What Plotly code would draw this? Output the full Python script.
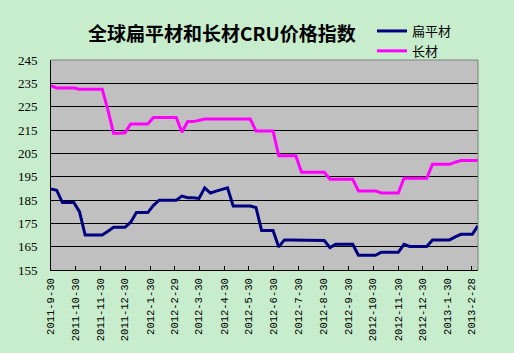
import pandas as pd
import plotly.graph_objects as go

# weekly observation dates (Fridays), first = 2011-09-30
dates = pd.date_range("2011-09-30", periods=76, freq="7D")

flat_steel = [  # 扁平材
    189.7, 189.2, 183.9, 183.9, 183.9, 180.0, 170.0, 170.0, 170.0, 170.0,
    171.6, 173.3, 173.3, 173.3, 175.5, 179.6, 179.6, 179.6, 182.7, 184.9,
    184.9, 184.9, 184.9, 186.7, 186.0, 186.0, 185.7, 190.2, 188.0, 188.8,
    189.6, 190.2, 182.4, 182.4, 182.4, 182.4, 181.8, 171.9, 171.9, 171.9,
    164.9, 167.9, 167.9, 167.9, 167.9, 167.6, 167.6, 167.6, 167.6, 164.6,
    166.0, 166.0, 166.0, 166.0, 161.3, 161.3, 161.3, 161.3, 162.6, 162.6,
    162.6, 162.6, 166.0, 165.1, 165.1, 165.1, 165.1, 167.9, 167.9, 167.9,
    167.9, 169.2, 170.3, 170.3, 170.3, 174.0,
]

long_steel = [  # 长材
    234.0, 233.0, 233.0, 233.0, 233.0, 232.5, 232.5, 232.5, 232.5, 232.5,
    223.5, 213.6, 213.6, 213.8, 217.6, 217.6, 217.6, 217.6, 220.4, 220.4,
    220.4, 220.4, 220.4, 214.0, 218.6, 218.6, 219.0, 219.7, 219.7, 219.7,
    219.7, 219.7, 219.7, 219.7, 219.7, 219.7, 214.6, 214.6, 214.6, 214.6,
    204.0, 204.0, 204.0, 204.0, 196.9, 196.9, 196.9, 196.9, 196.9, 193.9,
    193.9, 193.9, 193.9, 193.9, 188.9, 188.9, 188.9, 188.9, 188.0, 188.0,
    188.0, 188.0, 194.3, 194.3, 194.3, 194.3, 194.3, 200.3, 200.3, 200.3,
    200.3, 201.2, 201.9, 201.9, 201.9, 201.9,
]

tick_labels = [
    "2011-9-30", "2011-10-30", "2011-11-30", "2011-12-30", "2012-1-30",
    "2012-2-29", "2012-3-30", "2012-4-30", "2012-5-30", "2012-6-30",
    "2012-7-30", "2012-8-30", "2012-9-30", "2012-10-30", "2012-11-30",
    "2012-12-30", "2013-1-30", "2013-2-28",
]
tick_dates = [pd.Timestamp(*map(int, s.split("-"))) for s in tick_labels]

title_text = "全球扁平材和长材CRU价格指数"

W, H = 514, 353
ML, MR, MT, MB = 51, 36, 60, 83
PW, PH = W - ML - MR, H - MT - MB


def px_x(x):
    return (x - ML) / PW


def px_y(y):
    return 1 - (y - MT) / PH


fig = go.Figure()
fig.add_trace(go.Scatter(x=dates, y=flat_steel, name="扁平材", mode="lines",
                         line=dict(color="#000080", width=3)))
fig.add_trace(go.Scatter(x=dates, y=long_steel, name="长材", mode="lines",
                         line=dict(color="#FF00FF", width=3)))

fig.update_layout(
    width=W, height=H,
    margin=dict(l=ML, r=MR, t=MT, b=MB),
    paper_bgcolor="#C8EDCC",
    plot_bgcolor="#C0C0C0",
    showlegend=True,
    legend=dict(x=px_x(372), y=px_y(16), xanchor="left", yanchor="top",
                xref="paper", yref="paper",
                bgcolor="rgba(0,0,0,0)", tracegroupgap=0,
                font=dict(family="Noto Sans CJK SC", size=13, color="black")),
    annotations=[dict(text="<b>" + title_text + "</b>",
                      x=px_x(222), y=px_y(32),
                      xref="paper", yref="paper", showarrow=False,
                      xanchor="center", yanchor="middle",
                      font=dict(family="Noto Sans CJK SC", size=19, color="black"))],
)

fig.update_xaxes(
    type="date",
    range=[dates[0], dates[-1]],
    tickvals=tick_dates, ticktext=tick_labels,
    tickangle=-90,
    ticks="inside", ticklen=4, tickcolor="black", tickwidth=1,
    showgrid=False, zeroline=False,
    showline=True, linecolor="black", linewidth=1,
    tickfont=dict(family="Liberation Mono", size=10.5, color="black"),
    ticklabelstandoff=3,
)
fig.update_yaxes(
    range=[155, 245], dtick=10, tick0=155,
    showgrid=True, gridcolor="black", gridwidth=1,
    zeroline=False,
    showline=True, linecolor="black", linewidth=1,
    ticks="",
    tickfont=dict(family="Liberation Serif", size=13, color="black"),
    ticklabelstandoff=10,
)
fig.add_shape(type="line", xref="paper", yref="paper", x0=0, x1=1, y0=1, y1=1,
              line=dict(color="#808080", width=1), layer="above")
fig.add_shape(type="line", xref="paper", yref="paper", x0=1, x1=1, y0=0, y1=1,
              line=dict(color="#808080", width=1), layer="above")

fig.write_html("out.html")
